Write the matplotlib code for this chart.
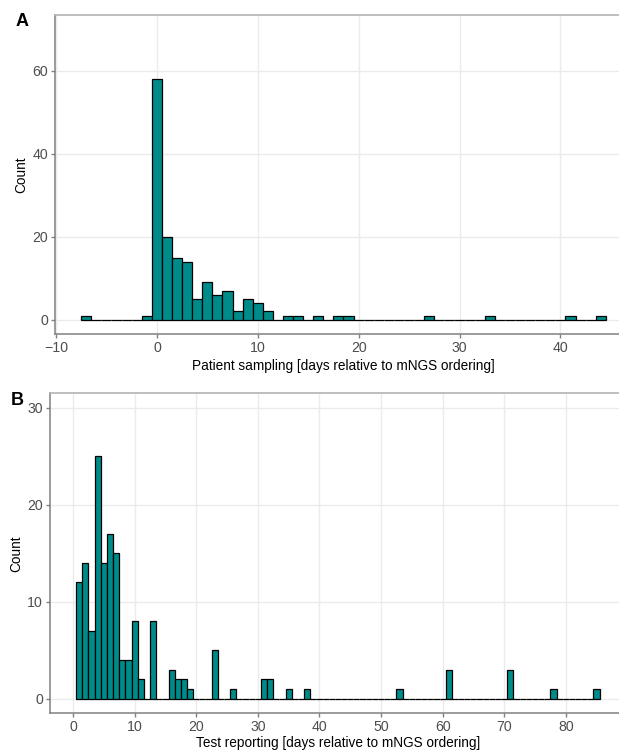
"""
Histograms of sampling and reporting delays relative to mNGS ordering
"""
import matplotlib
matplotlib.use("Agg")
import matplotlib.pyplot as plt
import numpy as np

plt.rcParams['font.family'] = ['Liberation Sans', 'DejaVu Sans']

# panel A: patient sampling, days relative to ordering (bins of width 1)
sampling_days = [-7, -1, 0, 1, 2, 3, 4, 5, 6, 7, 8, 9, 10, 11, 13, 14, 16, 18, 19, 27, 33, 41, 44]
sampling_counts = [1, 1, 58, 20, 15, 14, 5, 9, 6, 7, 2, 5, 4, 2, 1, 1, 1, 1, 1, 1, 1, 1, 1]

# panel B: test reporting, days relative to ordering
report_days = [1, 2, 3, 4, 5, 6, 7, 8, 9, 10, 11, 13, 16, 17, 18, 19, 23, 26, 31, 32,
               35, 38, 53, 61, 71, 78, 85]
report_counts = [12, 14, 7, 25, 14, 17, 15, 4, 4, 8, 2, 8, 3, 2, 2, 1, 5, 1, 2, 2,
                 1, 1, 1, 3, 3, 1, 1]

fill = '#008B8B'
grid_col = '#ebebeb'
axis_col = '#808080'
text_col = '#4d4d4d'
W, H = 619.0, 751.0


def full_bins(days, counts):
    # empty bins between first and last one are drawn as flat lines at 0
    x = np.arange(min(days), max(days) + 1)
    y = np.zeros(len(x))
    for d, c in zip(days, counts):
        y[d - min(days)] = c
    return x, y


def style(ax, xticks, yticks, xlabel, ylab_x, xlab_y):
    ax.set_xticks(xticks)
    ax.set_yticks(yticks)
    ax.set_xticklabels(['\u2212' + str(-t) if t < 0 else str(t) for t in xticks])
    ax.grid(True, color=grid_col, linewidth=1.0)
    ax.set_axisbelow(True)
    ax.spines['right'].set_visible(False)
    ax.spines['top'].set_color('#b3b3b3')
    ax.spines['top'].set_linewidth(1.2)
    for s in ['left', 'bottom']:
        ax.spines[s].set_color(axis_col)
        ax.spines[s].set_linewidth(1.1)
    ax.tick_params(colors=axis_col, labelcolor=text_col, labelsize=10.2, length=3, width=1, pad=2)
    ax.set_xlabel(xlabel, fontsize=9.8)
    ax.set_ylabel('Count', fontsize=9.8)
    # x label: top edge; y label: right edge (rotated)
    ax.xaxis.set_label_coords(0.5, xlab_y)
    ax.yaxis.set_label_coords(ylab_x, 0.5)


fig = plt.figure(figsize=(6.19, 7.51), dpi=100)

# panel A
a_left, a_right, a_top, a_bot = 55, 632, 14.7, 334.3
axA = fig.add_axes([a_left / W, 1 - a_bot / H, (a_right - a_left) / W, (a_bot - a_top) / H])
x, y = full_bins(sampling_days, sampling_counts)
axA.bar(x, y, width=1.0, color=fill, edgecolor='black', linewidth=0.9)
axA.set_xlim(-10.1, 47.1)
axA.set_ylim(-3.5, 73.5)
style(axA, [-10, 0, 10, 20, 30, 40], [0, 20, 40, 60],
      'Patient sampling [days relative to mNGS ordering]',
      (28 - a_left) / (a_right - a_left), -(359 - a_bot) / (a_bot - a_top))

# panel B
b_left, b_right, b_top, b_bot = 50, 625.8, 393.3, 713.3
axB = fig.add_axes([b_left / W, 1 - b_bot / H, (b_right - b_left) / W, (b_bot - b_top) / H])
x, y = full_bins(report_days, report_counts)
axB.bar(x, y, width=1.0, color=fill, edgecolor='black', linewidth=0.9)
axB.set_xlim(-3.75, 89.75)
axB.set_ylim(-1.5, 31.5)
style(axB, [0, 10, 20, 30, 40, 50, 60, 70, 80], [0, 10, 20, 30],
      'Test reporting [days relative to mNGS ordering]',
      (23 - b_left) / (b_right - b_left), -(736 - b_bot) / (b_bot - b_top))

fig.text(16 / W, 1 - 22 / H, 'A', fontsize=13, fontweight='bold', va='center')
fig.text(11 / W, 1 - 400 / H, 'B', fontsize=13, fontweight='bold', va='center')

fig.savefig('out.png', dpi=100)
